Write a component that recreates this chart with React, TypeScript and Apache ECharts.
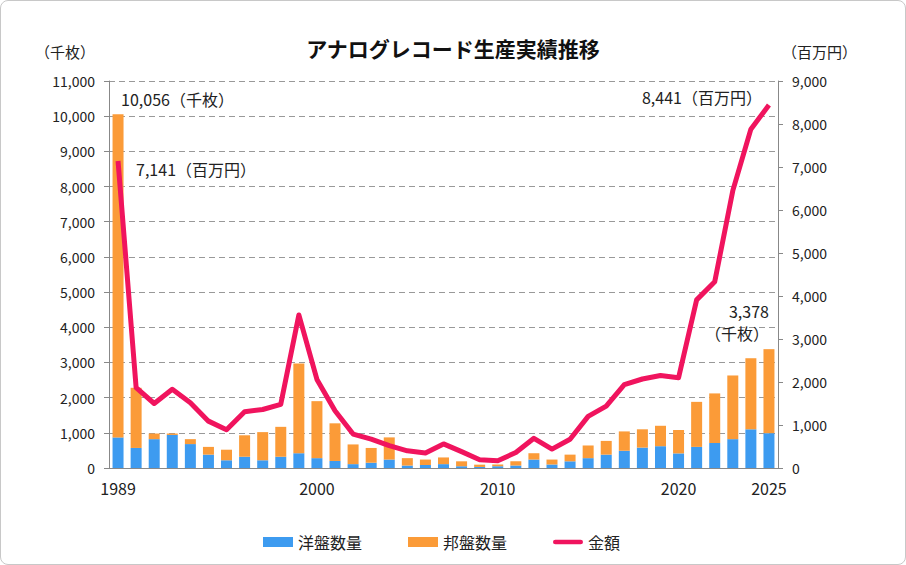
import { useEffect, useRef } from 'react';
import * as echarts from 'echarts';

const years = [
  '1989', '1990', '1991', '1992', '1993', '1994', '1995', '1996', '1997', '1998',
  '1999', '2000', '2001', '2002', '2003', '2004', '2005', '2006', '2007', '2008',
  '2009', '2010', '2011', '2012', '2013', '2014', '2015', '2016', '2017', '2018',
  '2019', '2020', '2021', '2022', '2023', '2024', '2025',
];

// 洋盤数量（千枚）
const foreignQty = [
  870, 570, 820, 940, 680, 380, 220, 320, 220, 320,
  420, 280, 200, 110, 150, 240, 70, 85, 110, 50,
  30, 50, 70, 240, 100, 190, 280, 380, 490, 580,
  620, 415, 600, 710, 820, 1100, 990,
];

// 合計数量（千枚）、邦盤 = 合計 - 洋盤
const totalQty = [
  10056, 2280, 980, 980, 820, 600, 520, 930, 1020, 1170,
  2970, 1900, 1270, 670, 570, 870, 280, 240, 300, 190,
  95, 100, 190, 420, 240, 380, 640, 770, 1040, 1100,
  1200, 1080, 1880, 2120, 2630, 3120, 3378,
];
const domesticQty = totalQty.map((t, i) => t - foreignQty[i]);

// 金額（百万円）
const amount = [
  7141, 1870, 1500, 1830, 1520, 1090, 890, 1310, 1360, 1480,
  3560, 2060, 1330, 790, 670, 520, 400, 350, 560, 380,
  190, 170, 360, 690, 440, 670, 1200, 1440, 1940, 2070,
  2150, 2100, 3910, 4330, 6450, 7880, 8441,
];

const shownYears = ['1989', '2000', '2010', '2020', '2025'];
const leftTicks = { min: 0, max: 11000, interval: 1000 };
const rightTicks = { min: 0, max: 9000, interval: 1000 };

const FONT = '"Noto Sans CJK JP", "Noto Sans", sans-serif';
const fmt = (v: number) => v.toLocaleString('en-US');

export default function App() {
  const chartRef = useRef<HTMLDivElement>(null);

  useEffect(() => {
    document.body.style.margin = '0';
    if (!chartRef.current) return;
    const chart = echarts.init(chartRef.current, null, { renderer: 'svg' });

    const last = years.length - 1;

    chart.setOption({
      animation: false,
      textStyle: { fontFamily: FONT, color: '#222' },
      title: {
        text: 'アナログレコード生産実績推移',
        left: 'center',
        top: 31,
        textStyle: { fontFamily: FONT, fontSize: 21, fontWeight: 'bold', color: '#111' },
      },
      legend: {
        left: 257,
        top: 528,
        itemGap: 46,
        itemWidth: 30,
        itemHeight: 10,
        textStyle: { fontFamily: FONT, fontSize: 16, color: '#222' },
        data: [
          { name: '洋盤数量', icon: 'rect' },
          { name: '邦盤数量', icon: 'rect' },
          {
            name: '金額',
            icon: 'path://M3,0 L35,0 A3,3 0 0 1 35,6 L3,6 A3,3 0 0 1 3,0 Z',
          },
        ],
      },
      grid: { left: 108, right: 127, top: 80, bottom: 96 },
      xAxis: {
        type: 'category',
        data: years,
        axisLine: { lineStyle: { color: '#888', width: 1 } },
        axisTick: { interval: 0, length: 5, lineStyle: { color: '#888' } },
        axisLabel: {
          interval: (_i: number, v: string) => shownYears.includes(v),
          fontSize: 16,
          color: '#222',
          margin: 12,
          fontFamily: FONT,
        },
      },
      yAxis: [
        {
          type: 'value',
          ...leftTicks,
          name: '（千枚）',
          nameLocation: 'end',
          nameGap: 22,
          nameTextStyle: { fontFamily: FONT, fontSize: 15, color: '#222', align: 'right', padding: [0, 14, 0, 0] },
          axisLine: { show: true, lineStyle: { color: '#888' } },
          axisTick: { show: true, length: 5, lineStyle: { color: '#888' } },
          axisLabel: { fontSize: 14, color: '#222', margin: 14, fontFamily: FONT, formatter: fmt },
          splitLine: { lineStyle: { color: '#999', type: [6, 4], width: 1 } },
        },
        {
          type: 'value',
          ...rightTicks,
          name: '（百万円）',
          nameLocation: 'end',
          nameGap: 22,
          nameTextStyle: { fontFamily: FONT, fontSize: 15, color: '#222', align: 'left', padding: [0, 0, 0, 4] },
          axisLine: { show: true, lineStyle: { color: '#888' } },
          axisTick: { show: true, length: 5, lineStyle: { color: '#888' } },
          axisLabel: { fontSize: 14, color: '#222', margin: 14, fontFamily: FONT, formatter: fmt },
          splitLine: { show: false },
        },
      ],
      series: [
        {
          name: '洋盤数量',
          type: 'bar',
          stack: 'qty',
          barWidth: 11,
          itemStyle: { color: '#3d9bf0' },
          data: foreignQty,
        },
        {
          name: '邦盤数量',
          type: 'bar',
          stack: 'qty',
          barWidth: 11,
          itemStyle: { color: '#fb9b38' },
          data: domesticQty,
          markPoint: {
            symbol: 'circle',
            symbolSize: 0,
            label: { fontFamily: FONT, fontSize: 16, color: '#222' },
            data: [
              {
                coord: [years[0], totalQty[0]],
                label: {
                  formatter: fmt(totalQty[0]) + '（千枚）',
                  position: 'right',
                  offset: [-2, -15],
                },
              },
              {
                coord: [years[last], totalQty[last]],
                label: {
                  formatter: fmt(totalQty[last]) + '\n（千枚）',
                  position: 'top',
                  align: 'right',
                  lineHeight: 22,
                  offset: [0, 0],
                },
              },
            ],
          },
        },
        {
          name: '金額',
          type: 'line',
          yAxisIndex: 1,
          showSymbol: false,
          symbol: 'none',
          lineStyle: { color: '#f0145e', width: 5, join: 'round' },
          itemStyle: { color: '#f0145e' },
          data: amount,
          markPoint: {
            symbol: 'circle',
            symbolSize: 0,
            label: { fontFamily: FONT, fontSize: 16, color: '#222' },
            data: [
              {
                coord: [years[0], amount[0]],
                label: {
                  formatter: fmt(amount[0]) + '（百万円）',
                  position: 'right',
                  offset: [13, 8],
                },
              },
              {
                coord: [years[last], amount[last]],
                label: {
                  formatter: fmt(amount[last]) + '（百万円）',
                  position: 'left',
                  offset: [-2, -8],
                },
              },
            ],
          },
        },
      ],
    });

    return () => {
      chart.dispose();
    };
  }, []);

  return (
    <div
      style={{
        position: 'absolute',
        left: 0,
        top: 0,
        width: 906,
        height: 565,
        boxSizing: 'border-box',
        border: '1px solid #c8c8c8',
        borderRadius: 8,
        background: '#fff',
        overflow: 'hidden',
      }}
    >
      <div ref={chartRef} style={{ width: '100%', height: '100%' }} />
    </div>
  );
}
